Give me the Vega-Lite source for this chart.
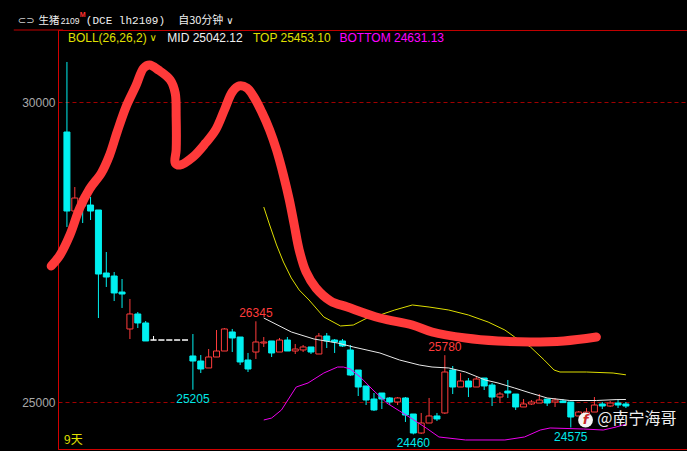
{
  "$schema": "https://vega.github.io/schema/vega-lite/v6.json",
  "autosize": "none",
  "width": 629,
  "height": 419,
  "padding": {"left": 58, "top": 30, "right": 0, "bottom": 2},
  "background": "#000000",
  "config": {"view": {"stroke": "#c00000", "strokeWidth": 1}, "text": {"font": "Liberation Sans"}},
  "datasets": {
    "k": [
      {"i":0,"o":29500,"h":30667,"l":27917,"c":28183},
      {"i":1,"o":28183,"h":28583,"l":28183,"c":28400},
      {"i":2,"o":28400,"h":28400,"l":27983,"c":28267},
      {"i":3,"o":28283,"h":28417,"l":28033,"c":28183},
      {"i":4,"o":28200,"h":28200,"l":26400,"c":27133},
      {"i":5,"o":27150,"h":27500,"l":26917,"c":27083},
      {"i":6,"o":27100,"h":27167,"l":26683,"c":26817},
      {"i":7,"o":26833,"h":27050,"l":26567,"c":26800},
      {"i":8,"o":26217,"h":26717,"l":26050,"c":26467},
      {"i":9,"o":26467,"h":26500,"l":26233,"c":26317},
      {"i":10,"o":26317,"h":26350,"l":26017,"c":26017},
      {"i":11,"o":26033,"h":26100,"l":26033,"c":26033},
      {"i":12,"o":26033,"h":26033,"l":26033,"c":26033},
      {"i":13,"o":26033,"h":26033,"l":26033,"c":26033},
      {"i":14,"o":26033,"h":26033,"l":26033,"c":26033},
      {"i":15,"o":26033,"h":26033,"l":26033,"c":26033},
      {"i":16,"o":25767,"h":26133,"l":25205,"c":25683},
      {"i":17,"o":25683,"h":25783,"l":25483,"c":25550},
      {"i":18,"o":25567,"h":25883,"l":25567,"c":25750},
      {"i":19,"o":25750,"h":26200,"l":25750,"c":25850},
      {"i":20,"o":25850,"h":26233,"l":25850,"c":26217},
      {"i":21,"o":26167,"h":26217,"l":25833,"c":26067},
      {"i":22,"o":26083,"h":26083,"l":25617,"c":25667},
      {"i":23,"o":25700,"h":25817,"l":25500,"c":25550},
      {"i":24,"o":25833,"h":26345,"l":25717,"c":26000},
      {"i":25,"o":25983,"h":26083,"l":25917,"c":26000},
      {"i":26,"o":26017,"h":26017,"l":25750,"c":25817},
      {"i":27,"o":25833,"h":26067,"l":25833,"c":26033},
      {"i":28,"o":26033,"h":26083,"l":25850,"c":25850},
      {"i":29,"o":25850,"h":25967,"l":25800,"c":25883},
      {"i":30,"o":25867,"h":25950,"l":25833,"c":25917},
      {"i":31,"o":25917,"h":25917,"l":25800,"c":25833},
      {"i":32,"o":25800,"h":26150,"l":25800,"c":26100},
      {"i":33,"o":26100,"h":26150,"l":25900,"c":26017},
      {"i":34,"o":26033,"h":26050,"l":25817,"c":26000},
      {"i":35,"o":26017,"h":26050,"l":25917,"c":25933},
      {"i":36,"o":25867,"h":25950,"l":25433,"c":25450},
      {"i":37,"o":25533,"h":25533,"l":25100,"c":25250},
      {"i":38,"o":25267,"h":25267,"l":24950,"c":25033},
      {"i":39,"o":25050,"h":25150,"l":24850,"c":24867},
      {"i":40,"o":25150,"h":25150,"l":24883,"c":25050},
      {"i":41,"o":25067,"h":25083,"l":24950,"c":25000},
      {"i":42,"o":25000,"h":25083,"l":24950,"c":25067},
      {"i":43,"o":25067,"h":25083,"l":24667,"c":24783},
      {"i":44,"o":24800,"h":24800,"l":24460,"c":24483},
      {"i":45,"o":24483,"h":24817,"l":24467,"c":24650},
      {"i":46,"o":24650,"h":25067,"l":24650,"c":24767},
      {"i":47,"o":24767,"h":24817,"l":24683,"c":24717},
      {"i":48,"o":24817,"h":25780,"l":24800,"c":25500},
      {"i":49,"o":25533,"h":25600,"l":25133,"c":25250},
      {"i":50,"o":25250,"h":25483,"l":25250,"c":25350},
      {"i":51,"o":25350,"h":25400,"l":25083,"c":25250},
      {"i":52,"o":25250,"h":25417,"l":25250,"c":25383},
      {"i":53,"o":25400,"h":25400,"l":25200,"c":25267},
      {"i":54,"o":25283,"h":25317,"l":24933,"c":25083},
      {"i":55,"o":25083,"h":25167,"l":24983,"c":25133},
      {"i":56,"o":25183,"h":25367,"l":25067,"c":25150},
      {"i":57,"o":25133,"h":25133,"l":24867,"c":24917},
      {"i":58,"o":24917,"h":25050,"l":24917,"c":24967},
      {"i":59,"o":24967,"h":25033,"l":24950,"c":25000},
      {"i":60,"o":24983,"h":25133,"l":24983,"c":25033},
      {"i":61,"o":25050,"h":25050,"l":24933,"c":24983},
      {"i":62,"o":25000,"h":25067,"l":24917,"c":25033},
      {"i":63,"o":25017,"h":25050,"l":24983,"c":24990},
      {"i":64,"o":25000,"h":25000,"l":24575,"c":24750},
      {"i":65,"o":24767,"h":24850,"l":24767,"c":24833},
      {"i":66,"o":24783,"h":24900,"l":24783,"c":24833},
      {"i":67,"o":24833,"h":25083,"l":24833,"c":24950},
      {"i":68,"o":24967,"h":25000,"l":24883,"c":24933},
      {"i":69,"o":24933,"h":25017,"l":24917,"c":24983},
      {"i":70,"o":24983,"h":25033,"l":24900,"c":24950},
      {"i":71,"o":24967,"h":25000,"l":24900,"c":24933}
    ],
    "boll": [
      {"i":25,"v":26400,"s":"MID"},{"i":28.5,"v":26167,"s":"MID"},{"i":31.375,"v":26050,"s":"MID"},{"i":34.375,"v":25983,"s":"MID"},{"i":36.375,"v":25917,"s":"MID"},{"i":39.75,"v":25817,"s":"MID"},{"i":42.25,"v":25700,"s":"MID"},{"i":44.75,"v":25617,"s":"MID"},{"i":46.375,"v":25583,"s":"MID"},{"i":48.5,"v":25567,"s":"MID"},{"i":50.625,"v":25500,"s":"MID"},{"i":53.125,"v":25367,"s":"MID"},{"i":54.75,"v":25317,"s":"MID"},{"i":56.875,"v":25233,"s":"MID"},{"i":58.875,"v":25150,"s":"MID"},{"i":61,"v":25067,"s":"MID"},{"i":63.875,"v":25025,"s":"MID"},{"i":67.25,"v":25025,"s":"MID"},{"i":69.75,"v":25040,"s":"MID"},{"i":71,"v":25042,"s":"MID"},
      {"i":25,"v":28250,"s":"TOP"},{"i":25.75,"v":27950,"s":"TOP"},{"i":26.625,"v":27617,"s":"TOP"},{"i":27.5,"v":27333,"s":"TOP"},{"i":28.5,"v":27067,"s":"TOP"},{"i":29.5,"v":26867,"s":"TOP"},{"i":30.75,"v":26700,"s":"TOP"},{"i":32.625,"v":26417,"s":"TOP"},{"i":34.75,"v":26267,"s":"TOP"},{"i":36.375,"v":26283,"s":"TOP"},{"i":38.125,"v":26400,"s":"TOP"},{"i":39.75,"v":26450,"s":"TOP"},{"i":41.625,"v":26533,"s":"TOP"},{"i":43.875,"v":26617,"s":"TOP"},{"i":46,"v":26583,"s":"TOP"},{"i":48.5,"v":26533,"s":"TOP"},{"i":51,"v":26450,"s":"TOP"},{"i":53.5,"v":26333,"s":"TOP"},{"i":55.625,"v":26200,"s":"TOP"},{"i":56.875,"v":26083,"s":"TOP"},{"i":58.875,"v":25917,"s":"TOP"},{"i":60.625,"v":25700,"s":"TOP"},{"i":61.875,"v":25533,"s":"TOP"},{"i":62.625,"v":25500,"s":"TOP"},{"i":66,"v":25500,"s":"TOP"},{"i":69.375,"v":25483,"s":"TOP"},{"i":71,"v":25453,"s":"TOP"},
      {"i":25,"v":24700,"s":"BOTTOM"},{"i":26,"v":24733,"s":"BOTTOM"},{"i":27.25,"v":24867,"s":"BOTTOM"},{"i":29.125,"v":25250,"s":"BOTTOM"},{"i":30.625,"v":25317,"s":"BOTTOM"},{"i":32.625,"v":25483,"s":"BOTTOM"},{"i":34.375,"v":25583,"s":"BOTTOM"},{"i":35.125,"v":25583,"s":"BOTTOM"},{"i":36,"v":25550,"s":"BOTTOM"},{"i":37.25,"v":25417,"s":"BOTTOM"},{"i":38.875,"v":25200,"s":"BOTTOM"},{"i":40.625,"v":24983,"s":"BOTTOM"},{"i":42.25,"v":24850,"s":"BOTTOM"},{"i":43.875,"v":24717,"s":"BOTTOM"},{"i":45.625,"v":24567,"s":"BOTTOM"},{"i":47.25,"v":24417,"s":"BOTTOM"},{"i":50.625,"v":24367,"s":"BOTTOM"},{"i":55.625,"v":24367,"s":"BOTTOM"},{"i":58.125,"v":24417,"s":"BOTTOM"},{"i":60.125,"v":24533,"s":"BOTTOM"},{"i":61.375,"v":24567,"s":"BOTTOM"},{"i":65.625,"v":24550,"s":"BOTTOM"},{"i":68.125,"v":24533,"s":"BOTTOM"},{"i":69.75,"v":24583,"s":"BOTTOM"},{"i":71,"v":24631,"s":"BOTTOM"}
    ],
    "hand": [
      {"i":-2,"v":27267},{"i":-0.875,"v":27450},{"i":0.375,"v":27783},{"i":1.625,"v":28233},{"i":2.875,"v":28550},{"i":4.375,"v":28817},{"i":5.375,"v":29100},{"i":6.375,"v":29500},{"i":7.5,"v":29917},{"i":8.75,"v":30267},{"i":9.75,"v":30567},{"i":10.5,"v":30617},{"i":11.625,"v":30533},{"i":13.125,"v":30367},{"i":13.75,"v":30150},{"i":13.875,"v":29750},{"i":13.875,"v":29200},{"i":13.75,"v":28983},{"i":14.375,"v":28950},{"i":16,"v":29083},{"i":17.625,"v":29317},{"i":18.875,"v":29533},{"i":20,"v":29867},{"i":21,"v":30167},{"i":21.875,"v":30267},{"i":22.875,"v":30233},{"i":23.75,"v":30083},{"i":24.75,"v":29833},{"i":25.75,"v":29533},{"i":26.625,"v":29200},{"i":27.5,"v":28783},{"i":28.25,"v":28367},{"i":28.875,"v":27950},{"i":29.5,"v":27533},{"i":30.375,"v":27167},{"i":31.625,"v":26900},{"i":33.5,"v":26683},{"i":35.625,"v":26583},{"i":39.75,"v":26400},{"i":43.875,"v":26283},{"i":46.375,"v":26167},{"i":50.625,"v":26067},{"i":54.75,"v":26017},{"i":58.875,"v":26000},{"i":63.125,"v":26017},{"i":67.25,"v":26083}
    ],
    "labels": [
      {"i":24,"v":26345,"t":"h"},{"i":48,"v":25780,"t":"h"},
      {"i":16,"v":25205,"t":"l"},{"i":44,"v":24460,"t":"l"},{"i":64,"v":24575,"t":"l"}
    ]
  },
  "layer": [
    {
      "data": {"name": "k"},
      "mark": {"type": "rule", "strokeWidth": 1},
      "encoding": {
        "x": {"field": "i", "type": "quantitative", "title": null, "scale": {"domain": [-0.5, 78.125], "nice": false, "zero": false},
              "axis": {"title": null, "labels": false, "ticks": false, "grid": false, "domain": true, "domainColor": "#d00000"}},
        "y": {"field": "l", "type": "quantitative", "title": null, "scale": {"domain": [24216.7, 31200], "nice": false, "zero": false},
              "axis": {"title": null, "values": [25000, 30000], "format": "d", "grid": true, "gridColor": "#a00000", "gridDash": [4, 3], "gridWidth": 1, "domain": true, "domainColor": "#d00000", "ticks": false, "labelColor": "#a8a8a8", "labelFont": "Liberation Sans", "labelFontSize": 12, "labelPadding": 3}},
        "y2": {"field": "h"},
        "color": {"condition": [{"test": "datum.c > datum.o", "value": "#ff3c3c"}, {"test": "datum.c == datum.o", "value": "#ffffff"}], "value": "#00f0f0"}
      }
    },
    {
      "data": {"name": "k"},
      "mark": {"type": "bar", "size": 6, "strokeWidth": 1},
      "encoding": {
        "x": {"field": "i", "type": "quantitative", "title": null},
        "y": {"field": "o", "type": "quantitative", "title": null},
        "y2": {"field": "c"},
        "fill": {"condition": [{"test": "datum.c > datum.o", "value": "#000000"}, {"test": "datum.c == datum.o", "value": "#ffffff"}], "value": "#00f0f0"},
        "stroke": {"condition": [{"test": "datum.c > datum.o", "value": "#ff3c3c"}, {"test": "datum.c == datum.o", "value": "#ffffff"}], "value": "#00f0f0"}
      }
    },
    {
      "data": {"name": "boll"},
      "mark": {"type": "line", "strokeWidth": 1},
      "encoding": {
        "x": {"field": "i", "type": "quantitative", "title": null},
        "y": {"field": "v", "type": "quantitative", "title": null},
        "color": {"field": "s", "type": "nominal", "legend": null, "scale": {"domain": ["MID", "TOP", "BOTTOM"], "range": ["#e8e8e8", "#dede00", "#ee00ee"]}}
      }
    },
    {
      "data": {"name": "labels"},
      "transform": [{"filter": "datum.t == 'h'"}],
      "mark": {"type": "text", "align": "center", "baseline": "middle", "dy": -8, "fontSize": 12, "font": "Liberation Sans", "color": "#ff3c3c"},
      "encoding": {
        "x": {"field": "i", "type": "quantitative", "title": null},
        "y": {"field": "v", "type": "quantitative", "title": null},
        "text": {"field": "v", "type": "nominal"}
      }
    },
    {
      "data": {"name": "labels"},
      "transform": [{"filter": "datum.t == 'l'"}],
      "mark": {"type": "text", "align": "center", "baseline": "middle", "dy": 9, "fontSize": 12, "font": "Liberation Sans", "color": "#00e8e8"},
      "encoding": {
        "x": {"field": "i", "type": "quantitative", "title": null},
        "y": {"field": "v", "type": "quantitative", "title": null},
        "text": {"field": "v", "type": "nominal"}
      }
    },
    {
      "data": {"name": "hand"},
      "mark": {"type": "line", "strokeWidth": 9, "strokeCap": "round", "strokeJoin": "round", "color": "#ff3a3a", "interpolate": "catmull-rom"},
      "encoding": {
        "x": {"field": "i", "type": "quantitative", "title": null},
        "y": {"field": "v", "type": "quantitative", "title": null},
        "order": {"value": null}
      }
    },
    {
      "data": {"values": [{}]},
      "mark": {"type": "rule", "color": "#c00000", "strokeWidth": 1},
      "encoding": {"x": {"datum": -6.75, "type": "quantitative", "title": null}, "x2": {"datum": -0.5}, "y": {"datum": 31200, "type": "quantitative", "title": null}}
    },
    {
      "data": {"values": [{}]},
      "mark": {"type": "text", "text": "⊂⊃", "align": "left", "baseline": "middle", "fontSize": 10, "font": "DejaVu Sans", "color": "#cfcfcf"},
      "encoding": {"x": {"datum": -6.25, "type": "quantitative", "title": null}, "y": {"datum": 31350, "type": "quantitative", "title": null}}
    },
    {
      "data": {"values": [{}]},
      "mark": {"type": "text", "text": "生猪", "align": "left", "baseline": "middle", "fontSize": 10.5, "font": "Noto Sans CJK SC", "color": "#f0f0f0"},
      "encoding": {"x": {"datum": -3.625, "type": "quantitative", "title": null}, "y": {"datum": 31350, "type": "quantitative", "title": null}}
    },
    {
      "data": {"values": [{}]},
      "mark": {"type": "text", "text": "2109", "align": "left", "baseline": "middle", "fontSize": 8.5, "font": "Liberation Sans", "color": "#f0f0f0"},
      "encoding": {"x": {"datum": -0.8, "type": "quantitative", "title": null}, "y": {"datum": 31350, "type": "quantitative", "title": null}}
    },
    {
      "data": {"values": [{}]},
      "mark": {"type": "text", "text": "M", "align": "left", "baseline": "middle", "fontSize": 7, "font": "Liberation Sans", "fontWeight": "bold", "color": "#ff3030"},
      "encoding": {"x": {"datum": 1.625, "type": "quantitative", "title": null}, "y": {"datum": 31458, "type": "quantitative", "title": null}}
    },
    {
      "data": {"values": [{}]},
      "mark": {"type": "text", "text": "(DCE lh2109)", "align": "left", "baseline": "middle", "fontSize": 11, "font": "Liberation Mono", "color": "#f0f0f0"},
      "encoding": {"x": {"datum": 2.4, "type": "quantitative", "title": null}, "y": {"datum": 31350, "type": "quantitative", "title": null}}
    },
    {
      "data": {"values": [{}]},
      "mark": {"type": "text", "text": "自30分钟", "align": "left", "baseline": "middle", "fontSize": 11, "font": "Noto Sans CJK SC", "color": "#f0f0f0"},
      "encoding": {"x": {"datum": 14.125, "type": "quantitative", "title": null}, "y": {"datum": 31350, "type": "quantitative", "title": null}}
    },
    {
      "data": {"values": [{}]},
      "mark": {"type": "text", "text": "∨", "align": "left", "baseline": "middle", "fontSize": 10, "font": "DejaVu Sans", "color": "#f0f0f0"},
      "encoding": {"x": {"datum": 20.25, "type": "quantitative", "title": null}, "y": {"datum": 31350, "type": "quantitative", "title": null}}
    },
    {
      "data": {"values": [{}]},
      "mark": {"type": "text", "text": "BOLL(26,26,2)", "align": "left", "baseline": "middle", "fontSize": 12, "font": "Liberation Sans", "color": "#e0e000"},
      "encoding": {"x": {"datum": 0.125, "type": "quantitative", "title": null}, "y": {"datum": 31075, "type": "quantitative", "title": null}}
    },
    {
      "data": {"values": [{}]},
      "mark": {"type": "text", "text": "∨", "align": "left", "baseline": "middle", "fontSize": 10, "font": "DejaVu Sans", "color": "#e0e000"},
      "encoding": {"x": {"datum": 10.5, "type": "quantitative", "title": null}, "y": {"datum": 31060, "type": "quantitative", "title": null}}
    },
    {
      "data": {"values": [{}]},
      "mark": {"type": "text", "text": "MID 25042.12", "align": "left", "baseline": "middle", "fontSize": 12, "font": "Liberation Sans", "color": "#f0f0f0"},
      "encoding": {"x": {"datum": 12.75, "type": "quantitative", "title": null}, "y": {"datum": 31075, "type": "quantitative", "title": null}}
    },
    {
      "data": {"values": [{}]},
      "mark": {"type": "text", "text": "TOP 25453.10", "align": "left", "baseline": "middle", "fontSize": 12, "font": "Liberation Sans", "color": "#e0e000"},
      "encoding": {"x": {"datum": 23.625, "type": "quantitative", "title": null}, "y": {"datum": 31075, "type": "quantitative", "title": null}}
    },
    {
      "data": {"values": [{}]},
      "mark": {"type": "text", "text": "BOTTOM 24631.13", "align": "left", "baseline": "middle", "fontSize": 12, "font": "Liberation Sans", "color": "#ff00ff"},
      "encoding": {"x": {"datum": 34.625, "type": "quantitative", "title": null}, "y": {"datum": 31075, "type": "quantitative", "title": null}}
    },
    {
      "data": {"values": [{}]},
      "mark": {"type": "text", "text": "9天", "align": "left", "baseline": "middle", "fontSize": 12, "font": "Noto Sans CJK SC", "color": "#e0e000"},
      "encoding": {"x": {"datum": -0.375, "type": "quantitative", "title": null}, "y": {"datum": 24367, "type": "quantitative", "title": null}}
    },
    {
      "data": {"values": [{}]},
      "mark": {"type": "point", "shape": "circle", "size": 220, "filled": true, "opacity": 1, "color": "#f4f4f4"},
      "encoding": {"x": {"datum": 65.875, "type": "quantitative", "title": null}, "y": {"datum": 24700, "type": "quantitative", "title": null}}
    },
    {
      "data": {"values": [{}]},
      "mark": {"type": "text", "text": "f", "align": "center", "baseline": "middle", "fontSize": 13, "fontWeight": "bold", "fontStyle": "italic", "font": "DejaVu Sans", "color": "#c82828"},
      "encoding": {"x": {"datum": 65.875, "type": "quantitative", "title": null}, "y": {"datum": 24700, "type": "quantitative", "title": null}}
    },
    {
      "data": {"values": [{}]},
      "mark": {"type": "text", "text": "@南宁海哥", "align": "left", "baseline": "middle", "fontSize": 16, "font": "Noto Sans CJK SC", "color": "#f0f0f0"},
      "encoding": {"x": {"datum": 67.375, "type": "quantitative", "title": null}, "y": {"datum": 24717, "type": "quantitative", "title": null}}
    }
  ]
}
